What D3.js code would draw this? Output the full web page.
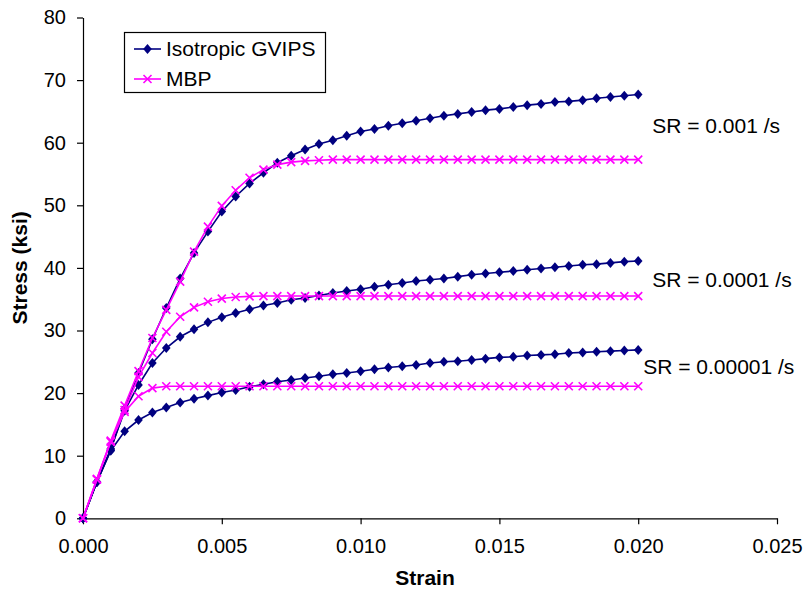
<!DOCTYPE html>
<html>
<head>
<meta charset="utf-8">
<script src="https://cdn.jsdelivr.net/npm/d3@7"></script>
<style>
  body { margin: 0; background: #fff; }
  svg text { font-family: "Liberation Sans", Arial, sans-serif; }
</style>
</head>
<body>
<div id="chart"></div>
<script>
// Data
const strain = [
    0.0000, 0.0005, 0.0010, 0.0015, 0.0020, 0.0025, 0.0030, 0.0035, 0.0040, 0.0045,
    0.0050, 0.0055, 0.0060, 0.0065, 0.0070, 0.0075, 0.0080, 0.0085, 0.0090, 0.0095,
    0.0100, 0.0105, 0.0110, 0.0115, 0.0120, 0.0125, 0.0130, 0.0135, 0.0140, 0.0145,
    0.0150, 0.0155, 0.0160, 0.0165, 0.0170, 0.0175, 0.0180, 0.0185, 0.0190, 0.0195,
    0.0200
];

// Isotropic GVIPS
const gvips_sr3 = [
    0, 5.8, 10.9, 17.5, 23.2, 28.6, 33.6, 38.3, 42.4, 45.8,
    49.0, 51.4, 53.5, 55.2, 56.8, 57.9, 58.9, 59.8, 60.4, 61.1,
    61.8, 62.2, 62.7, 63.1, 63.5, 63.9, 64.3, 64.6, 64.9, 65.2,
    65.4, 65.7, 66.0, 66.2, 66.5, 66.6, 66.8, 67.1, 67.3, 67.5,
    67.7
];
const gvips_sr4 = [
    0, 5.8, 11.1, 17.2, 21.3, 24.8, 27.2, 29.0, 30.2, 31.3,
    32.1, 32.8, 33.4, 34.0, 34.4, 34.9, 35.2, 35.6, 36.0, 36.3,
    36.6, 37.0, 37.3, 37.6, 37.9, 38.1, 38.3, 38.6, 38.9, 39.1,
    39.3, 39.5, 39.7, 39.9, 40.1, 40.3, 40.5, 40.6, 40.8, 41.0,
    41.1
];
const gvips_sr5 = [
    0, 5.8, 10.8, 13.9, 15.7, 16.9, 17.7, 18.5, 19.1, 19.6,
    20.1, 20.5, 21.0, 21.4, 21.8, 22.1, 22.4, 22.7, 23.0, 23.2,
    23.5, 23.8, 24.1, 24.3, 24.5, 24.8, 25.0, 25.1, 25.3, 25.5,
    25.7, 25.8, 26.0, 26.1, 26.2, 26.4, 26.5, 26.6, 26.7, 26.8,
    26.9
];

// MBP
const mbp_sr3 = [
    0, 6.3, 12.4, 18.0, 23.5, 28.8, 33.3, 37.8, 42.6, 46.6,
    49.9, 52.4, 54.4, 55.7, 56.5, 56.9, 57.1, 57.2, 57.3, 57.3,
    57.3, 57.3, 57.3, 57.3, 57.3, 57.3, 57.3, 57.3, 57.3, 57.3,
    57.3, 57.3, 57.3, 57.3, 57.3, 57.3, 57.3, 57.3, 57.3, 57.3,
    57.3
];
const mbp_sr4 = [
    0, 6.2, 12.3, 17.3, 22.6, 26.4, 29.8, 32.2, 33.7, 34.6,
    35.1, 35.35, 35.45, 35.5, 35.5, 35.5, 35.5, 35.5, 35.5, 35.5,
    35.5, 35.5, 35.5, 35.5, 35.5, 35.5, 35.5, 35.5, 35.5, 35.5,
    35.5, 35.5, 35.5, 35.5, 35.5, 35.5, 35.5, 35.5, 35.5, 35.5,
    35.5
];
const mbp_sr5 = [
    0, 6.2, 12.2, 17.0, 19.5, 20.8, 21.1, 21.1, 21.1, 21.1,
    21.1, 21.1, 21.1, 21.1, 21.1, 21.1, 21.1, 21.1, 21.1, 21.1,
    21.1, 21.1, 21.1, 21.1, 21.1, 21.1, 21.1, 21.1, 21.1, 21.1,
    21.1, 21.1, 21.1, 21.1, 21.1, 21.1, 21.1, 21.1, 21.1, 21.1,
    21.1
];

const xTicks = [0, 0.005, 0.010, 0.015, 0.020, 0.025];
const yTicks = [0, 10, 20, 30, 40, 50, 60, 70, 80];
const rateLabels = ["SR = 0.001 /s", "SR = 0.0001 /s", "SR = 0.00001 /s"];
const legendNames = ["Isotropic GVIPS", "MBP"];

// set the dimensions and margins of the graph
const W = 805, H = 592;
const plotLeft = 83, plotRight = 777, plotTop = 17.5, plotBottom = 518.3;

const navy = "#000080";
const magenta = "#FF00FF";

var svg = d3.select("#chart").append("svg")
    .attr("width", W)
    .attr("height", H);

const x = d3.scaleLinear().domain([0, 0.025]).range([plotLeft, plotRight]);
const y = d3.scaleLinear().domain([0, 80]).range([plotBottom, plotTop]);

// X axis
svg.append("g")
    .attr("transform", "translate(0," + plotBottom + ")")
    .call(d3.axisBottom(x)
        .tickValues(xTicks)
        .tickFormat(d3.format(".3f"))
        .tickSizeInner(6)
        .tickSizeOuter(0)
        .tickPadding(15))
    .call(g => g.selectAll("text").attr("font-size", 20).attr("fill", "#000"))
    .call(g => g.selectAll("line, path").attr("stroke", "#000").attr("stroke-width", 1.2));

// Y axis
svg.append("g")
    .attr("transform", "translate(" + plotLeft + ",0)")
    .call(d3.axisLeft(y)
        .tickValues(yTicks)
        .tickSizeInner(6)
        .tickSizeOuter(0)
        .tickPadding(11))
    .call(g => g.selectAll("text").attr("font-size", 20).attr("fill", "#000"))
    .call(g => g.selectAll("line, path").attr("stroke", "#000").attr("stroke-width", 1.2));

// Axis labels
svg.append("text")
    .attr("x", (plotLeft + plotRight) / 2 - 5)
    .attr("y", 585)
    .attr("text-anchor", "middle")
    .attr("font-size", 21)
    .attr("font-weight", "bold")
    .text("Strain");

svg.append("text")
    .attr("transform", "translate(27," + ((plotTop + plotBottom) / 2) + ") rotate(-90)")
    .attr("text-anchor", "middle")
    .attr("font-size", 21)
    .attr("font-weight", "bold")
    .text("Stress (ksi)");

// Series
const line = d3.line()
    .x((d, i) => x(strain[i]))
    .y(d => y(d));

// diamond marker, a little taller than wide
const diamond = "M0,-5L4.3,0L0,5L-4.3,0Z";

function drawGvips(values) {
    svg.append("path")
        .attr("d", line(values))
        .attr("fill", "none")
        .attr("stroke", navy)
        .attr("stroke-width", 1.6);
    svg.append("g").selectAll("path")
        .data(values)
        .join("path")
        .attr("transform", (d, i) => "translate(" + x(strain[i]) + "," + y(d) + ")")
        .attr("d", diamond)
        .attr("fill", navy);
}

function crossAt(g, cx, cy) {
    const s = 4;
    g.append("path")
        .attr("d", `M${cx - s},${cy - s}L${cx + s},${cy + s}M${cx - s},${cy + s}L${cx + s},${cy - s}`)
        .attr("stroke", magenta)
        .attr("stroke-width", 1.6)
        .attr("fill", "none");
}

function drawMbp(values) {
    svg.append("path")
        .attr("d", line(values))
        .attr("fill", "none")
        .attr("stroke", magenta)
        .attr("stroke-width", 1.6);
    const g = svg.append("g");
    values.forEach((d, i) => crossAt(g, x(strain[i]), y(d)));
}

[gvips_sr5, gvips_sr4, gvips_sr3].forEach(drawGvips);
[mbp_sr5, mbp_sr4, mbp_sr3].forEach(drawMbp);

// Strain rate labels
const labelPos = [
    { dx: 14, v: 62.7 },
    { dx: 14, v: 38.2 },
    { dx: 5, v: 24.2 }
];
rateLabels.forEach((t, k) => {
    svg.append("text")
        .attr("x", x(strain[strain.length - 1]) + labelPos[k].dx)
        .attr("y", y(labelPos[k].v))
        .attr("dy", "0.35em")
        .attr("font-size", 21)
        .text(t);
});

// Legend
const legend = svg.append("g");
legend.append("rect")
    .attr("x", 124.5)
    .attr("y", 32.5)
    .attr("width", 201)
    .attr("height", 60)
    .attr("fill", "#fff")
    .attr("stroke", "#000")
    .attr("stroke-width", 1.2);

const legY = [49, 79];
legend.append("line")
    .attr("x1", 134).attr("x2", 161)
    .attr("y1", legY[0]).attr("y2", legY[0])
    .attr("stroke", navy).attr("stroke-width", 1.6);
legend.append("path")
    .attr("transform", "translate(147.5," + legY[0] + ")")
    .attr("d", diamond)
    .attr("fill", navy);
legend.append("line")
    .attr("x1", 134).attr("x2", 161)
    .attr("y1", legY[1]).attr("y2", legY[1])
    .attr("stroke", magenta).attr("stroke-width", 1.6);
crossAt(legend, 147.5, legY[1]);

legendNames.forEach((t, k) => {
    legend.append("text")
        .attr("x", 166)
        .attr("y", legY[k])
        .attr("dy", "0.35em")
        .attr("font-size", 21)
        .text(t);
});
</script>
</body>
</html>
